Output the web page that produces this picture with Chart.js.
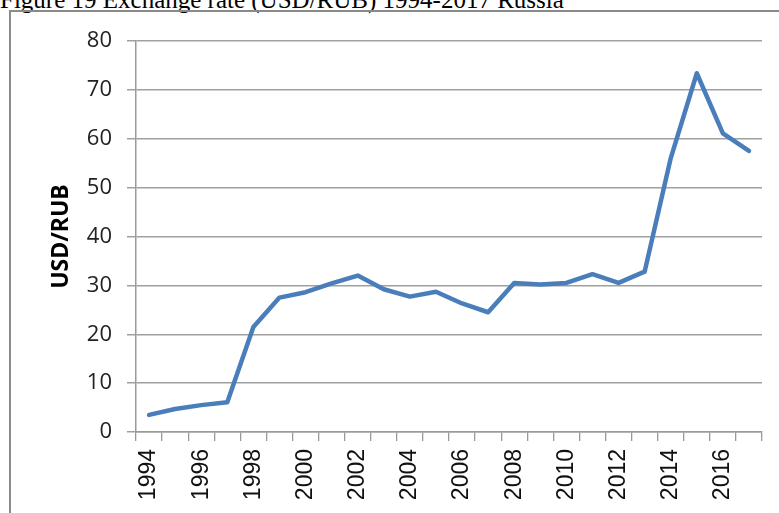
<!DOCTYPE html>
<html>
<head>
<meta charset="utf-8">
<script src="https://cdn.jsdelivr.net/npm/chart.js@4"></script>
<style>
  html, body { margin: 0; padding: 0; background: #fff; overflow: hidden; }
  #wrap { position: relative; width: 779px; height: 513px; overflow: hidden; background: #fff; }
  #title { position: absolute; left: 0px; top: -13px; font-family: "Liberation Serif", serif; font-size: 25px; line-height: 25px; color: #000; white-space: nowrap; }
  #frame { position: absolute; left: 9px; top: 10px; width: 900px; height: 700px; border-left: 2px solid #8a8a8a; border-top: 2px solid #8a8a8a; }
  #c { position: absolute; left: 0; top: 0; }
</style>
</head>
<body>
<div id="wrap">
  <div id="title">Figure 19 Exchange rate (USD/RUB) 1994-2017 Russia</div>
  <div id="frame"></div>
  <canvas id="c" width="779" height="513"></canvas>
</div>
<script>
const years = ["1994","1995","1996","1997","1998","1999","2000","2001","2002","2003","2004","2005","2006","2007","2008","2009","2010","2011","2012","2013","2014","2015","2016","2017"];
const usdRub = [3.5, 4.7, 5.5, 6.1, 21.5, 27.5, 28.6, 30.4, 32.0, 29.2, 27.7, 28.7, 26.3, 24.5, 30.5, 30.2, 30.5, 32.3, 30.5, 32.8, 56.0, 73.4, 61.1, 57.5];
const yTicks = [0, 10, 20, 30, 40, 50, 60, 70, 80];
const yTitle = "USD/RUB";

new Chart(document.getElementById('c'), {
  type: 'line',
  data: {
    labels: years,
    datasets: [{
      data: usdRub,
      borderColor: '#4a7ebb',
      borderWidth: 4.5,
      pointRadius: 0,
      tension: 0,
      borderJoinStyle: 'round',
      borderCapStyle: 'round',
      fill: false
    }]
  },
  options: {
    responsive: false,
    animation: false,
    devicePixelRatio: 1,
    layout: { padding: { left: 0, right: 17, top: 41, bottom: 0 } },
    plugins: { legend: { display: false }, tooltip: { enabled: false }, title: { display: false } },
    scales: {
      x: {
        type: 'category',
        offset: true,
        afterFit: s => { s.height = 81; s.paddingRight = 0; s.paddingLeft = 0; },
        grid: { display: true, drawOnChartArea: false, offset: true, color: '#9a9a9a', lineWidth: 1.3, tickLength: 9 },
        border: { display: true, color: '#9a9a9a', width: 1.5 },
        ticks: {
          autoSkip: false,
          minRotation: 90,
          maxRotation: 90,
          padding: 8,
          color: '#111',
          font: { family: '"Liberation Sans", Arial, sans-serif', size: 23 },
          callback: function (v, i) { return i % 2 === 0 ? this.getLabelForValue(v) : ''; }
        }
      },
      y: {
        min: 0,
        max: 80,
        afterFit: s => { s.width = 136; },
        afterBuildTicks: s => { s.ticks = yTicks.map(v => ({ value: v })); },
        grid: { color: '#a0a0a0', lineWidth: 1.5, tickLength: 9 },
        border: { display: true, color: '#9a9a9a', width: 1.5 },
        ticks: {
          padding: 15,
          color: '#222',
          font: { family: '"Open Sans", sans-serif', size: 22 }
        },
        title: {
          display: true,
          text: yTitle,
          color: '#000',
          font: { family: '"Open Sans", sans-serif', size: 23, weight: 'bold' },
          padding: { top: 48, bottom: 0 }
        }
      }
    }
  }
});
</script>
</body>
</html>
